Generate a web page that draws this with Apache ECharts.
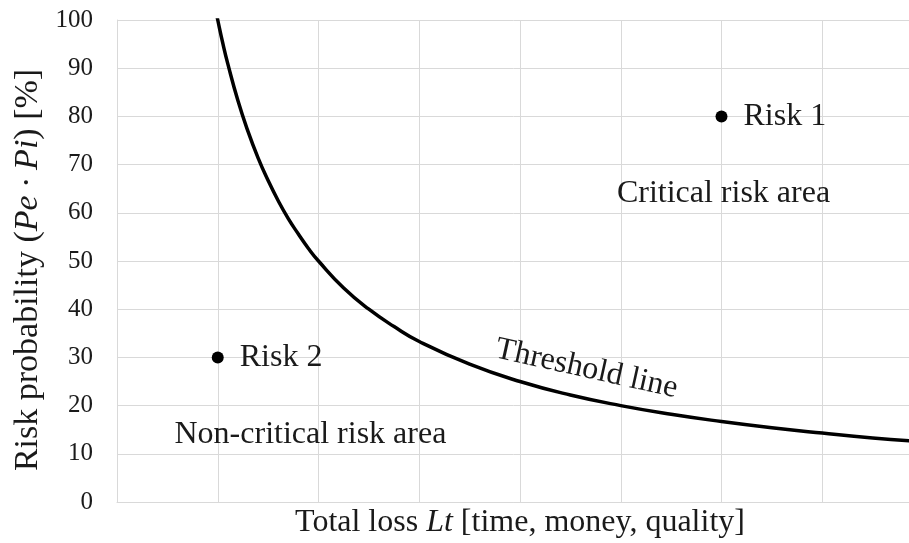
<!DOCTYPE html>
<html>
<head>
<meta charset="utf-8">
<script src="https://cdn.jsdelivr.net/npm/echarts@6/dist/echarts.min.js"></script>
<style>
  html, body { margin: 0; padding: 0; background: #fff; }
  #chart { width: 909px; height: 543px; }
</style>
</head>
<body>
<div id="chart"></div>
<script>
// threshold curve
const thresholdX = [0.96, 1.0, 1.05, 1.1, 1.2, 1.3, 1.4, 1.5, 1.6, 1.7, 1.8, 1.9, 2.0, 2.25, 2.5, 2.75, 3.0, 3.5, 4.0, 4.5, 5.0, 5.5, 6.0, 6.5, 7.0, 7.5, 8.0];
const thresholdY = [104, 100, 95.2, 90.9, 83.3, 76.9, 71.4, 66.7, 62.5, 58.8, 55.6, 52.6, 50, 44.4, 40, 36.4, 33.3, 28.6, 25, 22.2, 20, 18.2, 16.7, 15.4, 14.3, 13.3, 12.5];

const riskNames = ['Risk 1', 'Risk 2'];
const riskX = [6, 1];
const riskY = [80, 30];

const areaTexts = ['Critical risk area', 'Non-critical risk area'];
const areaX = [6.02, 1.92];
const areaY = [64, 13.9];

const yTicks = [0, 10, 20, 30, 40, 50, 60, 70, 80, 90, 100];

const font = '"Liberation Serif", "Times New Roman", serif';
const ink = '#1a1a1a';
const gridColor = '#d9d9d9';

const chart = echarts.init(document.getElementById('chart'));

const option = {
  backgroundColor: '#fff',
  animation: false,
  grid: { left: 117, right: -14, top: 20, bottom: 41, outerBoundsMode: 'none', containLabel: false },
  xAxis: {
    type: 'value',
    min: 0,
    max: 8,
    interval: 1,
    name: '{n|Total loss }{i|Lt}{n| [time, money, quality]}',
    nameLocation: 'middle',
    nameGap: 5,
    nameTextStyle: {
      rich: {
        n: { fontFamily: font, fontSize: 32, color: ink },
        i: { fontFamily: font, fontSize: 32, color: ink, fontStyle: 'italic' }
      }
    },
    axisLabel: { show: false },
    axisTick: { show: false },
    axisLine: { show: true, lineStyle: { color: gridColor, width: 1 } },
    splitLine: { show: true, lineStyle: { color: gridColor, width: 1 } }
  },
  yAxis: {
    type: 'value',
    min: yTicks[0],
    max: yTicks[yTicks.length - 1],
    interval: 10,
    name: '{n|Risk probability (}{i|Pe · Pi}{n|) [%]}',
    nameLocation: 'middle',
    nameRotate: 90,
    nameGap: 71,
    nameTextStyle: {
      padding: [0, 18, 0, 0],
      rich: {
        n: { fontFamily: font, fontSize: 34, color: ink },
        i: { fontFamily: font, fontSize: 34, color: ink, fontStyle: 'italic' }
      }
    },
    axisLabel: { fontFamily: font, fontSize: 25, color: ink, margin: 24 },
    axisTick: { show: false },
    axisLine: { show: true, lineStyle: { color: gridColor, width: 1 } },
    splitLine: { show: true, lineStyle: { color: gridColor, width: 1 } }
  },
  series: [
    {
      name: 'Threshold line',
      type: 'line',
      data: thresholdX.map((x, i) => [x, thresholdY[i]]),
      smooth: 0.5,
      showSymbol: false,
      lineStyle: { color: '#000', width: 3.5 },
      z: 3
    },
    {
      name: 'Risks',
      type: 'scatter',
      data: riskX.map((x, i) => ({ value: [x, riskY[i]], name: riskNames[i] })),
      symbolSize: 12,
      itemStyle: { color: '#000', opacity: 1 },
      label: {
        show: true,
        position: 'right',
        distance: 16,
        formatter: p => p.name,
        fontFamily: font,
        fontSize: 32,
        color: ink
      },
      z: 4
    },
    {
      name: 'Areas',
      type: 'scatter',
      data: areaX.map((x, i) => ({ value: [x, areaY[i]], name: areaTexts[i] })),
      symbolSize: 0,
      silent: true,
      itemStyle: { opacity: 1 },
      label: {
        show: true,
        position: 'inside',
        formatter: p => p.name,
        fontFamily: font,
        fontSize: 32,
        color: ink
      }
    },
    {
      name: 'Threshold label',
      type: 'scatter',
      data: [{ value: [4.66, 27.6], name: 'Threshold line' }],
      symbolSize: 0,
      silent: true,
      itemStyle: { opacity: 1 },
      label: {
        show: true,
        position: 'inside',
        rotate: -12.5,
        formatter: p => p.name,
        fontFamily: font,
        fontSize: 32,
        color: ink
      }
    }
  ]
};

chart.setOption(option);
</script>
</body>
</html>
